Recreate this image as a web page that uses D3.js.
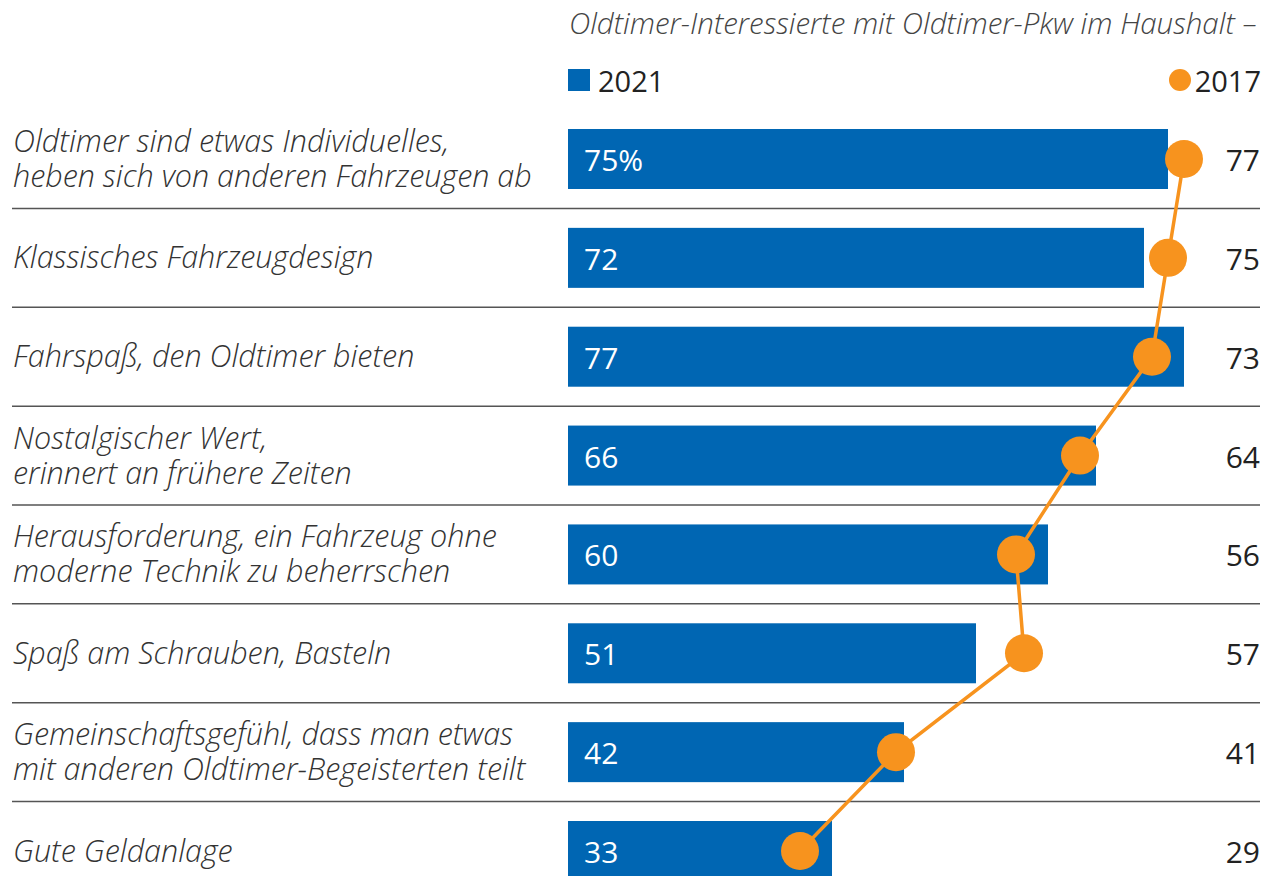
<!DOCTYPE html>
<html>
<head>
<meta charset="utf-8">
<script src="https://cdn.jsdelivr.net/npm/d3@7"></script>
<style>
  body { margin: 0; background: #fff; }
  svg { display: block; font-family: "Open Sans", sans-serif; }
</style>
</head>
<body>
<div id="vis"></div>
<script>
const FRAME_WIDTH = 1274;
const FRAME_HEIGHT = 876;

// data
const CATEGORIES = [
  ["Oldtimer sind etwas Individuelles,", "heben sich von anderen Fahrzeugen ab"],
  ["Klassisches Fahrzeugdesign"],
  ["Fahrspaß, den Oldtimer bieten"],
  ["Nostalgischer Wert,", "erinnert an frühere Zeiten"],
  ["Herausforderung, ein Fahrzeug ohne", "moderne Technik zu beherrschen"],
  ["Spaß am Schrauben, Basteln"],
  ["Gemeinschaftsgefühl, dass man etwas", "mit anderen Oldtimer-Begeisterten teilt"],
  ["Gute Geldanlage"]
];
const VALUES_2021 = [75, 72, 77, 66, 60, 51, 42, 33];
const VALUES_2017 = [77, 75, 73, 64, 56, 57, 41, 29];
const SERIES = ["2021", "2017"];
const TITLE = "Oldtimer-Interessierte mit Oldtimer-Pkw im Haushalt –";

const BLUE = "#0066b3";
const ORANGE = "#f7931e";

const rows = CATEGORIES.map((c, i) => ({ i: i, label: c, v21: VALUES_2021[i], v17: VALUES_2017[i] }));

const FRAME = d3.select("#vis")
  .append("svg")
    .attr("width", FRAME_WIDTH)
    .attr("height", FRAME_HEIGHT);

const X_SCALE = d3.scaleLinear().domain([0, 100]).range([568, 1368]);
const Y_SCALE = d3.scalePoint().domain(d3.range(rows.length)).range([159, 851]);
const STEP = Y_SCALE.step();
const BAR_H = 60;

// title
FRAME.append("text")
  .attr("x", 569).attr("y", 34)
  .attr("font-size", 29.5).attr("font-style", "italic").attr("font-weight", 300)
  .attr("fill", "#444")
  .text(TITLE);

// legend
FRAME.append("rect")
  .attr("x", 568).attr("y", 69).attr("width", 22).attr("height", 22)
  .attr("fill", BLUE);
FRAME.append("text")
  .attr("x", 598).attr("y", 92)
  .attr("font-size", 29).attr("font-weight", 500).attr("fill", "#222")
  .text(SERIES[0]);
FRAME.append("circle")
  .attr("cx", 1180).attr("cy", 80).attr("r", 11)
  .attr("fill", ORANGE);
FRAME.append("text")
  .attr("x", 1261).attr("y", 92).attr("text-anchor", "end")
  .attr("font-size", 29).attr("font-weight", 500).attr("fill", "#222")
  .text(SERIES[1]);

// divider lines
FRAME.selectAll(".divider")
  .data(rows.slice(0, -1))
  .enter()
  .append("line")
    .attr("x1", 12).attr("x2", 1260)
    .attr("y1", (d) => Y_SCALE(d.i) + STEP / 2)
    .attr("y2", (d) => Y_SCALE(d.i) + STEP / 2)
    .attr("stroke", "#555").attr("stroke-width", 1.5);

// category labels
const LABELS = FRAME.selectAll(".label")
  .data(rows)
  .enter()
  .append("text")
    .attr("font-size", 30.5).attr("font-style", "italic").attr("font-weight", 300)
    .attr("fill", "#333");
LABELS.each(function (d) {
  const n = d.label.length;
  d3.select(this).selectAll("tspan")
    .data(d.label)
    .enter()
    .append("tspan")
      .attr("x", 13)
      .attr("y", (t, j) => Y_SCALE(d.i) + 10.5 + (j - (n - 1) / 2) * 35)
      .text((t) => t);
});

// bars
FRAME.selectAll(".bar")
  .data(rows)
  .enter()
  .append("rect")
    .attr("x", X_SCALE(0))
    .attr("y", (d) => Y_SCALE(d.i) - BAR_H / 2)
    .attr("width", (d) => X_SCALE(d.v21) - X_SCALE(0))
    .attr("height", BAR_H)
    .attr("fill", BLUE);

// bar values
FRAME.selectAll(".barval")
  .data(rows)
  .enter()
  .append("text")
    .attr("x", 584)
    .attr("y", (d) => Y_SCALE(d.i) + 12)
    .attr("font-size", 30).attr("font-weight", 400).attr("fill", "#fff")
    .text((d) => d.i === 0 ? d.v21 + "%" : d.v21);

// 2017 line and dots
const LINE = d3.line()
  .x((d) => X_SCALE(d.v17))
  .y((d) => Y_SCALE(d.i));
FRAME.append("path")
  .datum(rows)
  .attr("d", LINE)
  .attr("fill", "none")
  .attr("stroke", ORANGE)
  .attr("stroke-width", 3.5);
FRAME.selectAll(".dot")
  .data(rows)
  .enter()
  .append("circle")
    .attr("cx", (d) => X_SCALE(d.v17))
    .attr("cy", (d) => Y_SCALE(d.i))
    .attr("r", 19)
    .attr("fill", ORANGE);

// 2017 values
FRAME.selectAll(".val17")
  .data(rows)
  .enter()
  .append("text")
    .attr("x", 1260).attr("text-anchor", "end")
    .attr("y", (d) => Y_SCALE(d.i) + 12)
    .attr("font-size", 30).attr("font-weight", 500).attr("fill", "#222")
    .text((d) => d.v17);
</script>
</body>
</html>
